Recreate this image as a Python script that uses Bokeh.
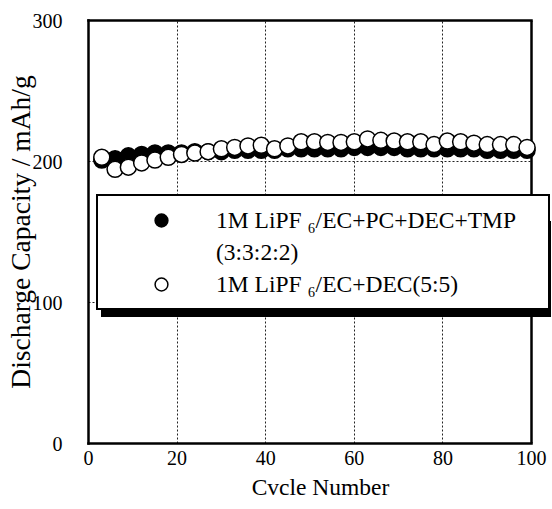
from bokeh.plotting import figure
from bokeh.models import FixedTicker, Legend, LegendItem, Range1d, LinearAxis, Span
from bokeh.embed import file_html
from bokeh.resources import INLINE

# ---- data ----
cycles = [3, 6, 9, 12, 15, 18, 21, 24, 27, 30, 33, 36, 39, 42, 45, 48, 51,
          54, 57, 60, 63, 66, 69, 72, 75, 78, 81, 84, 87, 90, 93, 96, 99]
tmp_capacity = [201, 202, 204, 205, 206, 206, 206, 207, 207, 207, 208, 208,
                208, 208, 209, 209, 209, 209, 209, 210, 210, 210, 210, 209,
                209, 209, 209, 209, 209, 208, 208, 208, 208]
dec_capacity = [203, 194.5, 196, 199, 201, 203, 205, 206, 207, 209, 210, 211,
                211.5, 209, 211, 214, 214, 213.5, 213.5, 214, 216, 215, 214.5,
                214, 214, 212, 214.5, 214, 213, 212, 212, 212, 210]
x_ticks = [0, 20, 40, 60, 80, 100]
y_ticks = [0, 100, 200, 300]
x_grid = [20, 40, 60, 80]
y_grid = [100, 200]
label_tmp = "1M LiPF \u2086/EC+PC+DEC+TMP"
label_tmp_2 = "(3:3:2:2)"
label_dec = "1M LiPF \u2086/EC+DEC(5:5)"
x_title = "Cvcle Number"
y_title = "Discharge Capacity / mAh/g"

FONT = "Liberation Serif"

W, H = 552, 509
LEFT, TOP, BOTTOM = 88, 20, 66
PLOT_W = 443            # pixel width of the 0..100 data span
x_max, y_max = 100, 300
x_end = x_max * (W - LEFT) / PLOT_W   # frame extends right so the legend is not clipped

p = figure(width=W, height=H, x_range=Range1d(0, x_end), y_range=Range1d(0, y_max),
           output_backend="svg", toolbar_location=None,
           min_border_left=LEFT, min_border_right=0, min_border_top=TOP,
           min_border_bottom=BOTTOM)

p.background_fill_color = "white"
p.border_fill_color = "white"
p.outline_line_color = None

p.xaxis.ticker = FixedTicker(ticks=x_ticks)
p.yaxis.ticker = FixedTicker(ticks=y_ticks)
p.xaxis.bounds = (0, x_max)
p.xgrid.ticker = FixedTicker(ticks=x_grid)
p.ygrid.ticker = FixedTicker(ticks=y_grid)
p.ygrid.cross_bounds = (0, x_max)
for g in (p.xgrid, p.ygrid):
    g.grid_line_color = "#222222"
    g.grid_line_dash = "2 2"
    g.grid_line_width = 1

for ax in (p.xaxis, p.yaxis):
    ax.axis_line_color = "black"
    ax.axis_line_width = 2.5
    ax.axis_line_cap = "square"
    ax.major_tick_line_color = None
    ax.minor_tick_line_color = None
    ax.major_label_text_font = FONT
    ax.major_label_text_font_size = "20px"
    ax.major_label_text_color = "black"
    ax.axis_label_text_font = FONT
    ax.axis_label_text_font_style = "normal"
    ax.axis_label_text_color = "black"

p.xaxis.axis_label = x_title
p.yaxis.axis_label = y_title
p.xaxis.axis_label_text_font_size = "23.5px"
p.yaxis.axis_label_text_font_size = "27.5px"
p.xaxis.major_label_standoff = 1
p.xaxis.axis_label_standoff = 6
p.yaxis.major_label_standoff = 20
p.yaxis.axis_label_standoff = -6

# top border of the plot box
top_axis = LinearAxis(ticker=FixedTicker(ticks=[]), bounds=(0, x_max),
                      axis_line_color="black", axis_line_width=2.5, axis_line_cap="square",
                      major_tick_line_color=None, minor_tick_line_color=None)
p.add_layout(top_axis, "above")
# right border of the plot box at x = 100
right_border = Span(location=x_max, dimension="height", line_color="black",
                    line_width=2.5, level="underlay")
p.add_layout(right_border)

filled = p.scatter(cycles, tmp_capacity, size=16, marker="circle",
                   fill_color="black", line_color="black", line_width=1.5)
opened = p.scatter(cycles, dec_capacity, size=16, marker="circle",
                   fill_color="white", line_color="black", line_width=1.5)
blank = p.scatter([], [], size=1, marker="circle", fill_alpha=0, line_alpha=0)


def style_legend(lg):
    lg.padding = 8
    lg.margin = 0
    lg.spacing = 0
    lg.glyph_width = 110
    lg.label_standoff = -6
    lg.label_text_font = FONT
    lg.label_text_font_size = "23.5px"
    lg.label_text_color = "black"
    return lg


# drop shadow of the legend box
shadow = style_legend(Legend(items=[LegendItem(label="", renderers=[blank])],
                             location=(13, 126)))
shadow.label_width = 340
shadow.glyph_height = 96
shadow.label_height = 96
shadow.background_fill_color = "black"
shadow.background_fill_alpha = 1
shadow.border_line_color = None

legend = style_legend(Legend(items=[LegendItem(label=label_tmp, renderers=[filled]),
                                    LegendItem(label=label_tmp_2, renderers=[blank]),
                                    LegendItem(label=label_dec, renderers=[opened])],
                             location=(8, 133)))
legend.label_width = 324
legend.glyph_height = 32
legend.label_height = 32
legend.background_fill_color = "white"
legend.background_fill_alpha = 1
legend.border_line_color = "black"
legend.border_line_width = 2
legend.border_line_alpha = 1

p.add_layout(shadow, "center")
p.add_layout(legend, "center")

open("out.html", "w").write(file_html(p, INLINE))
